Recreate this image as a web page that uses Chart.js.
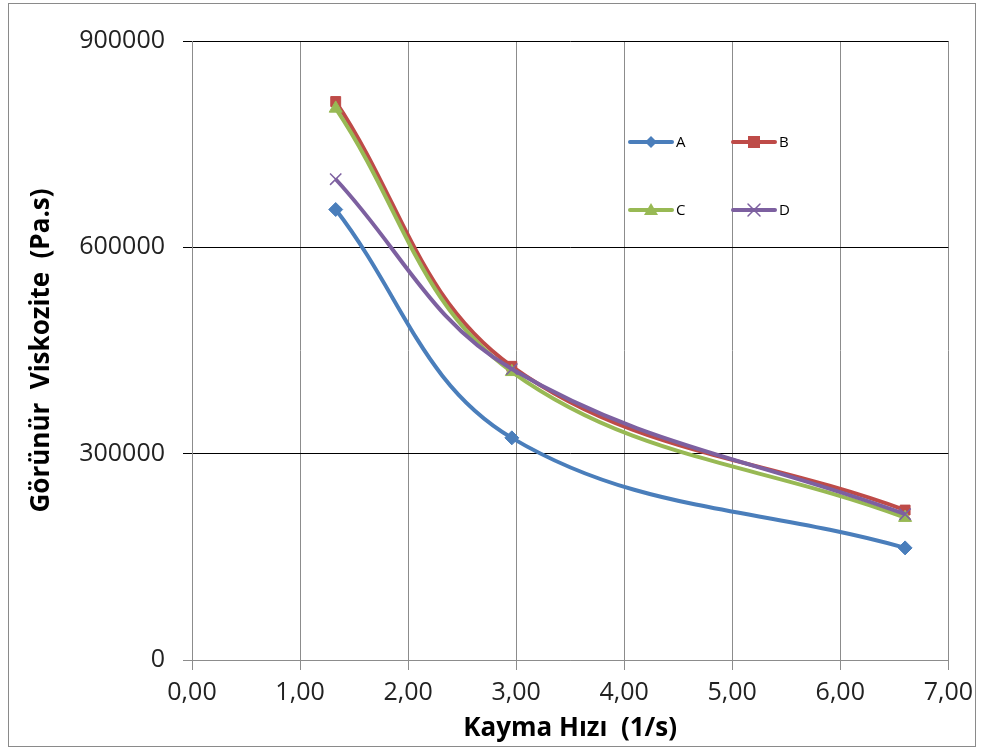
<!DOCTYPE html>
<html>
<head>
<meta charset="utf-8">
<script src="https://cdn.jsdelivr.net/npm/chart.js@4.4.1/dist/chart.umd.min.js"></script>
<style>
  html, body { margin: 0; padding: 0; background: #fff; }
  #wrap { position: relative; width: 981px; height: 749px; }
</style>
</head>
<body>
<div id="wrap"><canvas id="c" width="981" height="749"></canvas></div>
<script>
// ---- data ----
const shearRate = [1.33, 2.96, 6.60];
const seriesA = [655000, 323000, 163000];
const seriesB = [812000, 427000, 218000];
const seriesC = [802000, 419000, 207000];
const seriesD = [699000, 423000, 212000];
const seriesNames = ['A', 'B', 'C', 'D'];
const yTicks = [0, 300000, 600000, 900000];
const xTicks = [0, 1, 2, 3, 4, 5, 6, 7];

const colors = ['#4A7EBB', '#BE4B48', '#98B954', '#7D60A0'];
const markers = ['rectRot', 'rect', 'triangle', 'crossRot'];
const radii = [7, 7, 7.5, 8];

function pts(vals) { return shearRate.map((x, i) => ({ x: x, y: vals[i] })); }
const allSeries = [seriesA, seriesB, seriesC, seriesD];

const datasets = allSeries.map((vals, i) => ({
  label: seriesNames[i],
  data: pts(vals),
  borderColor: colors[i],
  backgroundColor: colors[i],
  borderWidth: 4,
  pointStyle: markers[i],
  pointRadius: radii[i],
  pointBorderWidth: i === 3 ? 1.5 : 1,
  pointBackgroundColor: colors[i],
  pointBorderColor: colors[i],
  tension: 0.38,
  order: 4 - i
}));

const frame = {
  id: 'frame',
  afterDraw(chart) {
    const ctx = chart.ctx;
    ctx.save();
    ctx.strokeStyle = '#8a8a8a';
    ctx.lineWidth = 1;
    ctx.strokeRect(8.5, 3.5, 967, 743);
    ctx.restore();
  }
};

const insideLegend = {
  id: 'insideLegend',
  afterDatasetsDraw(chart) {
    const ctx = chart.ctx;
    const spots = [[630, 142], [733, 142], [630, 210], [733, 210]];
    ctx.save();
    chart.data.datasets.forEach((ds, i) => {
      const [x, y] = spots[i];
      ctx.strokeStyle = ds.borderColor;
      ctx.lineWidth = 4;
      ctx.lineCap = 'round';
      ctx.beginPath();
      ctx.moveTo(x, y);
      ctx.lineTo(x + 42, y);
      ctx.stroke();
      const cx = x + 21;
      ctx.fillStyle = ds.borderColor;
      ctx.lineWidth = 1.5;
      if (ds.pointStyle === 'rectRot') {
        const r = 6;
        ctx.beginPath();
        ctx.moveTo(cx, y - r); ctx.lineTo(cx + r, y); ctx.lineTo(cx, y + r); ctx.lineTo(cx - r, y);
        ctx.closePath(); ctx.fill();
      } else if (ds.pointStyle === 'rect') {
        ctx.fillRect(cx - 6, y - 6, 12, 12);
      } else if (ds.pointStyle === 'triangle') {
        ctx.beginPath();
        ctx.moveTo(cx, y - 7); ctx.lineTo(cx + 7, y + 5); ctx.lineTo(cx - 7, y + 5);
        ctx.closePath(); ctx.fill();
      } else {
        const r = 6;
        ctx.beginPath();
        ctx.moveTo(cx - r, y - r); ctx.lineTo(cx + r, y + r);
        ctx.moveTo(cx + r, y - r); ctx.lineTo(cx - r, y + r);
        ctx.stroke();
      }
      ctx.fillStyle = '#000';
      ctx.font = '15px "Open Sans", sans-serif';
      ctx.textAlign = 'left';
      ctx.textBaseline = 'middle';
      ctx.fillText(ds.label, x + 46, y + 1);
    });
    ctx.restore();
  }
};

new Chart(document.getElementById('c'), {
  type: 'line',
  data: { datasets: datasets },
  options: {
    responsive: false,
    animation: false,
    layout: { padding: { left: 0, right: 32, top: 41, bottom: 0 } },
    plugins: { legend: { display: false }, tooltip: { enabled: false } },
    scales: {
      x: {
        type: 'linear',
        min: 0, max: 7,
        afterBuildTicks(scale) { scale.ticks = xTicks.map(v => ({ value: v })); },
        afterFit(scale) { scale.height = 89; },
        ticks: {
          color: '#222',
          font: { family: '"Open Sans", sans-serif', size: 25 },
          padding: 8,
          maxRotation: 0,
          callback: v => v.toFixed(2).replace('.', ',')
        },
        grid: { color: '#8c8c8c', lineWidth: 1, tickLength: 10, drawTicks: true },
        border: { color: '#8c8c8c', width: 1 },
        title: {
          display: true,
          text: 'Kayma Hızı  (1/s)',
          color: '#000',
          font: { family: '"Open Sans", sans-serif', size: 26, weight: 'bold' },
          padding: { top: 0, bottom: 5 }
        }
      },
      y: {
        type: 'linear',
        min: 0, max: 900000,
        afterBuildTicks(scale) { scale.ticks = yTicks.map(v => ({ value: v })); },
        afterFit(scale) { scale.width = 192; },
        ticks: {
          color: '#222',
          font: { family: '"Open Sans", sans-serif', size: 25 },
          padding: 18,
          callback: v => String(v)
        },
        grid: {
          color: ctx => (ctx.tick && ctx.tick.value === 0) ? '#8c8c8c' : '#000',
          lineWidth: 1, tickLength: 9, drawTicks: true
        },
        border: { color: '#8c8c8c', width: 1 },
        title: {
          display: true,
          text: 'Görünür  Viskozite  (Pa.s)',
          color: '#000',
          font: { family: '"Open Sans", sans-serif', size: 26, weight: 'bold' },
          padding: { top: 26, bottom: 0 }
        }
      }
    }
  },
  plugins: [frame, insideLegend]
});
</script>
</body>
</html>
